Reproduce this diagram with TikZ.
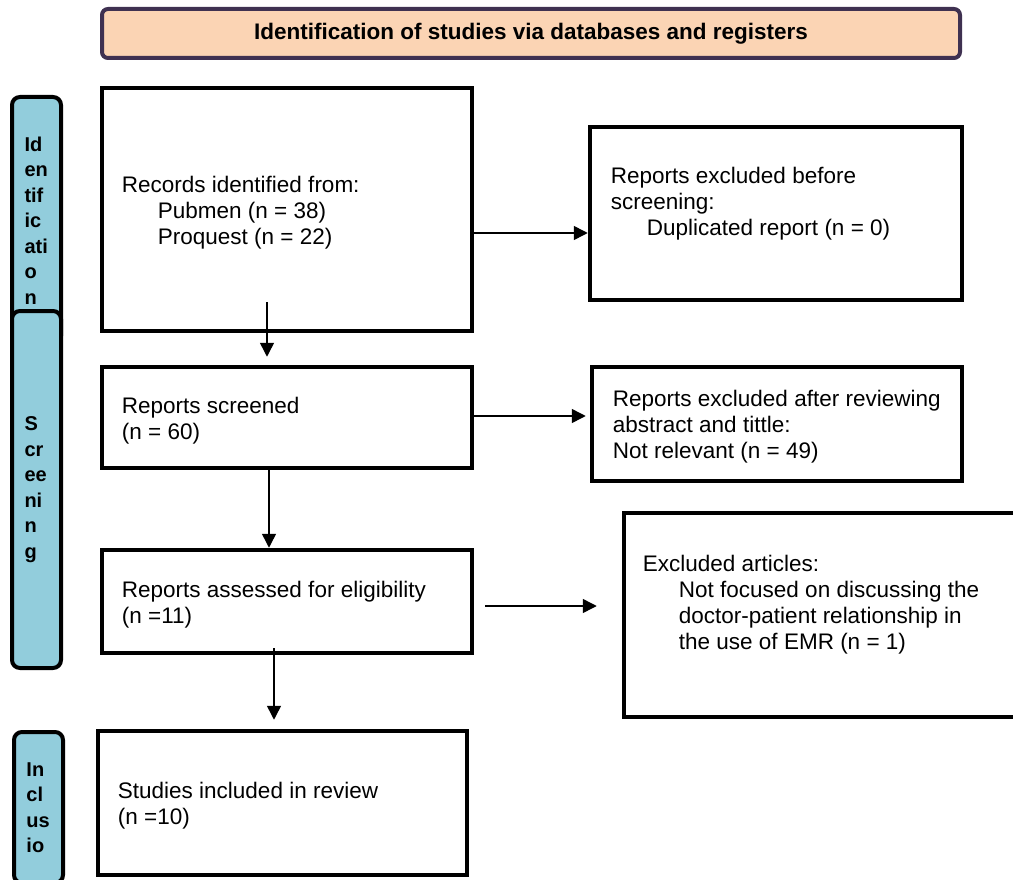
\documentclass[tikz,border=0pt]{standalone}
\usepackage{fontspec}
\setmainfont{Liberation Sans}
\usetikzlibrary{arrows.meta}
\definecolor{peach}{HTML}{FBD4B4}
\definecolor{headline}{HTML}{3F3151}
\definecolor{phase}{HTML}{92CDDC}
\tikzset{
  >={Triangle[length=14pt,width=14pt]},
  flow/.style={->, line width=1.5pt},
  header/.style={draw=headline, line width=4pt, rounded corners=6pt, fill=peach,
    minimum width=858pt, minimum height=49pt, font=\fontsize{22.5}{26}\selectfont\bfseries},
  phasebar/.style={draw, line width=4pt, rounded corners=8pt, fill=phase,
    minimum width=49pt, text width=24pt, inner xsep=0pt, align=left,
    font=\fontsize{20}{25.5}\selectfont\bfseries},
  box/.style={draw, line width=4.5pt, inner sep=0pt},
  txt/.style={anchor=west, inner sep=0pt, align=left, yshift=-3pt,
    font=\fontsize{22.5}{26}\selectfont},
}

\begin{document}
\begin{tikzpicture}[x=1pt, y=-1pt]
        \useasboundingbox (0,0) rectangle (1013,880);

        % header
        \node[header] (head) at (531,33.5) {Identification of studies via databases and registers};

        % phase bars
        \node[phasebar, minimum height=247pt] (identbar) at (36.5,220.5) {Id\\en\\tif\\ic\\ati\\o\\n};
        \node[phasebar, minimum height=357pt] (screenbar) at (36.5,489.5) {S\\cr\\ee\\ni\\n\\g};
        \node[phasebar, minimum height=151pt] (inclbar) at (38.5,807.5) {In\\cl\\us\\io};

        % boxes
        \node[box, minimum width=370pt, minimum height=243pt] (rec) at (287,209.5) {};
        \node[box, minimum width=372pt, minimum height=173pt] (excl1) at (776,213.5) {};
        \node[box, minimum width=370pt, minimum height=101pt] (scr) at (287,417.5) {};
        \node[box, minimum width=370pt, minimum height=114pt] (excl2) at (777,424) {};
        \node[box, minimum width=370pt, minimum height=103pt] (elig) at (287,601.5) {};
        \node[box, minimum width=406pt, minimum height=204pt] (excl3) at (827,615) {};
        \node[box, minimum width=369pt, minimum height=144pt] (incl) at (282.5,803) {};

        % texts
        \node[txt] (rec-txt) at ([xshift=22pt]rec.west) {Records identified from:\\\hspace*{36pt}Pubmen (n = 38)\\\hspace*{36pt}Proquest (n = 22)};
        \node[txt] (excl1-txt) at ([xshift=23pt,yshift=12.5pt]excl1.west) {Reports excluded before\\screening:\\\hspace*{36pt}Duplicated report (n = 0)};
        \node[txt] (scr-txt) at ([xshift=22pt]scr.west) {Reports screened\\(n = 60)};
        \node[txt] (excl2-txt) at ([xshift=23pt]excl2.west) {Reports excluded after reviewing\\abstract and tittle:\\Not relevant (n = 49)};
        \node[txt] (elig-txt) at ([xshift=22pt]elig.west) {Reports assessed for eligibility\\(n =11)};
        \node[txt] (excl3-txt) at ([xshift=21pt,yshift=13pt]excl3.west) {Excluded articles:\\\hspace*{36pt}Not focused on discussing the\\\hspace*{36pt}doctor-patient relationship in\\\hspace*{36pt}the use of EMR (n = 1)};
        \node[txt] (incl-txt) at ([xshift=22pt]incl.west) {Studies included in review\\(n =10)};

        % arrows
        \coordinate (a1) at ([yshift=-23.5pt]rec.east);
        \coordinate (a2) at ([xshift=-20pt,yshift=31pt]rec.south);
        \coordinate (a3) at ([yshift=1.5pt]scr.east);
        \coordinate (a4) at ([xshift=-18pt]scr.south);
        \coordinate (a5) at ([xshift=11pt,yshift=-4.5pt]elig.east);
        \coordinate (a6) at ([xshift=-13pt,yshift=7pt]elig.south);
        \draw[flow] (a1) -- (a1 -| excl1.west);
        \draw[flow, shorten >=8pt] (a2) -- (a2 |- scr.north);
        \draw[flow, shorten >=4pt] (a3) -- (a3 -| excl2.west);
        \draw[flow] (a4) -- (a4 |- elig.north);
        \draw[flow, shorten >=25pt] (a5) -- (a5 -| excl3.west);
        \draw[flow, shorten >=9pt] (a6) -- (a6 |- incl.north);
\end{tikzpicture}
\end{document}
